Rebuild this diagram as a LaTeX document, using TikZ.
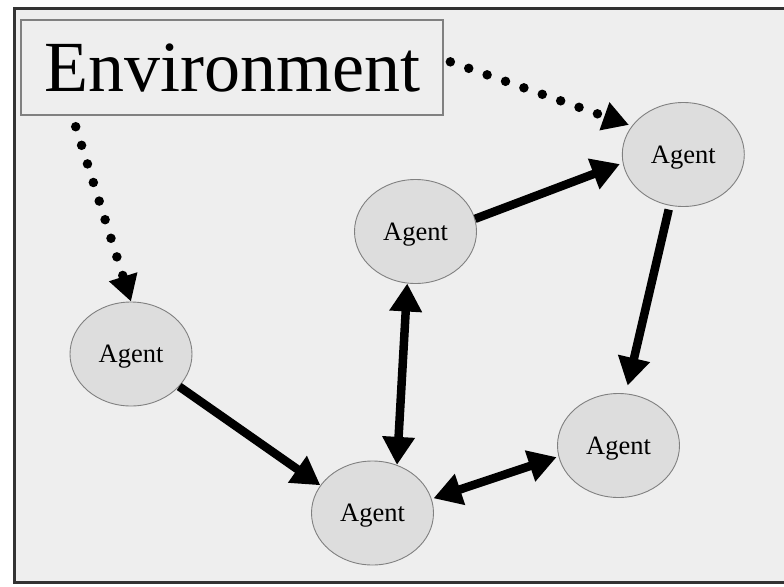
\documentclass[tikz,border=0pt]{standalone}
\usepackage{fontspec}
\setmainfont{Liberation Serif}
\usetikzlibrary{arrows.meta,shapes.geometric}
\definecolor{bgc}{HTML}{EEEEEE}
\definecolor{agentfill}{HTML}{DDDDDD}
\definecolor{agentline}{HTML}{808080}
\tikzset{
  agent/.style={ellipse, draw=agentline, line width=0.9pt, fill=agentfill,
    minimum width=122pt, minimum height=104pt, inner sep=0pt,
    font=\fontsize{26.5}{26.5}\selectfont, text depth=0pt},
  envbox/.style={rectangle, draw=agentline, line width=1.5pt, fill=bgc,
    minimum width=422pt, minimum height=95pt, inner sep=0pt,
    font=\fontsize{72}{72}\selectfont, text depth=0pt},
  flow/.style={line width=8.5pt, -{Triangle[length=28pt,width=31pt]}},
  both/.style={line width=8.5pt, {Triangle[length=28pt,width=31pt]}-{Triangle[length=28pt,width=31pt]}},
  sense/.style={line width=9.5pt, line cap=round, dash pattern=on 0pt off 19.5pt,
    -{Triangle[length=26pt,width=28pt]}},
}
\begin{document}
\begin{tikzpicture}[x=1pt,y=-1pt]
\useasboundingbox (0,0) rectangle (784,586);
\fill[white] (0,0) rectangle (784,586);
\draw[line width=3pt, draw=black!80, fill=bgc] (14.5,8.5) rectangle (800,582.5);

\node[envbox] (env) at (232,67.5) {Environment};

\node[agent] (tr)  at (683.3,154.5) {Agent};
\node[agent] (mid) at (415.5,231.5) {Agent};
\node[agent] (lft) at (131,354)     {Agent};
\node[agent] (br)  at (618.5,445.5) {Agent};
\node[agent] (bot) at (372.5,513)   {Agent};

% dotted sensing arrows from the environment
\draw[sense, shorten <=7pt, shorten >=3pt] ([yshift=8pt]env.east) -- (tr.151);
\draw[sense, shorten <=11.5pt] ([xshift=52pt]env.south west) -- (lft.90);

% interaction arrows
\draw[flow] (lft.-34) -- (bot.152);
\draw[flow] (mid.12.8) -- ([xshift=-3pt]tr.189.7);
\draw[flow, shorten <=4pt, shorten >=8pt] (tr.255) -- (br.82);
\draw[both] (mid.261) -- (bot.63);
\draw[both] ([xshift=2pt]bot.14) -- ([xshift=-2pt]br.191);
\end{tikzpicture}
\end{document}
